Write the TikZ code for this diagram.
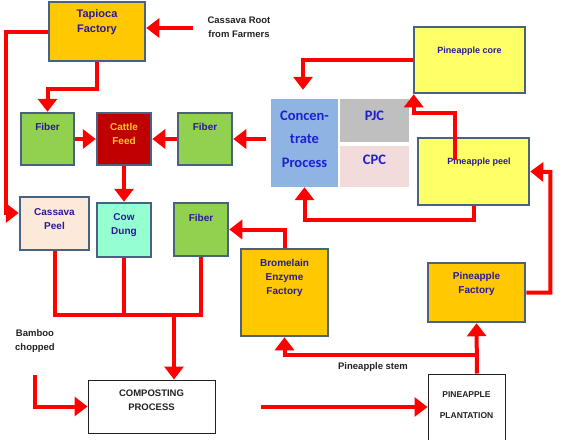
\documentclass[tikz,border=0pt]{standalone}
\usepackage{fontspec}
\setmainfont{Liberation Sans}
\newfontfamily\calib{Carlito}
\usetikzlibrary{arrows.meta}
\definecolor{arrred}{RGB}{255,0,0}
\definecolor{bordc}{RGB}{72,98,128}
\definecolor{txtblue}{RGB}{40,26,150}
\definecolor{goldf}{RGB}{255,200,0}
\definecolor{fiberf}{RGB}{146,208,80}
\definecolor{cattlef}{RGB}{192,0,0}
\definecolor{cattlet}{RGB}{255,200,40}
\definecolor{peelf}{RGB}{253,233,217}
\definecolor{cowf}{RGB}{150,255,210}
\definecolor{yellf}{RGB}{255,255,102}
\definecolor{concf}{RGB}{141,180,226}
\definecolor{pjcf}{RGB}{191,191,191}
\definecolor{cpcf}{RGB}{242,220,219}
\definecolor{conct}{RGB}{30,30,210}
\definecolor{darkt}{RGB}{34,34,34}
\begin{document}
\begin{tikzpicture}[x=1pt,y=-1pt,
  box/.style={draw=bordc, line width=2.5pt, inner sep=0},
  wbox/.style={draw=darkt, line width=1pt, fill=white, inner sep=0},
  flat/.style={inner sep=0},
  lbl/.style={font=\bfseries\fontsize{10}{14}\selectfont, text=txtblue, align=center, inner sep=0},
  dlbl/.style={font=\bfseries\fontsize{9.5}{14}\selectfont, text=darkt, align=center, inner sep=0},
  clbl/.style={font=\calib\bfseries\fontsize{14.5}{23.5}\selectfont, text=conct, align=center, inner sep=0},
  redline/.style={draw=arrred, line width=4pt},
  arr/.style={redline, -{Triangle[width=19pt,length=13pt]}},
]
\useasboundingbox (0,0) rectangle (562,439);

% boxes
\node[box, fill=goldf, minimum width=96, minimum height=59] (tap) at (97,31.5) {};
\node[box, fill=fiberf, minimum width=53, minimum height=52] (fib1) at (47.5,139) {};
\node[box, fill=cattlef, minimum width=54, minimum height=52] (cattle) at (124,139) {};
\node[box, fill=fiberf, minimum width=54, minimum height=52] (fib2) at (205,139) {};
\node[box, fill=peelf, minimum width=69, minimum height=53] (cpeel) at (54.5,223.5) {};
\node[box, fill=cowf, minimum width=54, minimum height=54] (cow) at (124,230) {};
\node[box, fill=fiberf, minimum width=54, minimum height=53] (fib3) at (201,229.5) {};
\node[box, fill=goldf, minimum width=87, minimum height=87] (brom) at (284.5,292.5) {};
\node[box, fill=goldf, minimum width=97, minimum height=59] (pfac) at (476.5,292.5) {};
\node[box, fill=yellf, minimum width=111, minimum height=66] (core) at (469.5,60) {};
\node[box, fill=yellf, minimum width=111, minimum height=67] (peel) at (473.5,171.5) {};
\node[flat, fill=concf, minimum width=67, minimum height=88] (conc) at (304.5,143) {};
\node[flat, fill=pjcf, minimum width=69, minimum height=43] (pjc) at (374.5,120.5) {};
\node[flat, fill=cpcf, minimum width=69, minimum height=41] (cpc) at (374.5,166.5) {};
\node[wbox, minimum width=127, minimum height=53] (comp) at (151.5,406.5) {};
\node[wbox, minimum width=77, minimum height=70] (plant) at (466.5,409) {};

% texts
\node[lbl, font=\bfseries\fontsize{11}{15}\selectfont] (tapT) at (97,22.5) {Tapioca\\Factory};
\node[lbl] (fib1T) at (47.5,127) {Fiber};
\node[lbl, text=cattlet] (cattleT) at (124,134) {Cattle\\Feed};
\node[lbl] (fib2T) at (205,127) {Fiber};
\node[lbl] (cpeelT) at (54.5,219) {Cassava\\Peel};
\node[lbl] (cowT) at (124,225) {Cow\\Dung};
\node[lbl] (fib3T) at (201,218) {Fiber};
\node[lbl] (bromT) at (284.5,278) {Bromelain\\Enzyme\\Factory};
\node[lbl] (pfacT) at (476.5,284) {Pineapple\\Factory};
\node[lbl, font=\bfseries\fontsize{9}{11}\selectfont] (coreT) at (469.5,51) {Pineapple core};
\node[lbl, font=\bfseries\fontsize{9}{11}\selectfont] (peelT) at (479,162) {Pineapple peel};
\node[clbl] (concT) at (304.5,139) {Concen-\\trate\\Process};
\node[clbl] (pjcT) at (374.5,116) {PJC};
\node[clbl] (cpcT) at (374.5,160) {CPC};
\node[dlbl] (compT) at (151.5,400) {COMPOSTING\\PROCESS};
\node[dlbl, font=\bfseries\fontsize{8.5}{21}\selectfont] (plantT) at (466.5,405.5) {PINEAPPLE\\PLANTATION};
\node[dlbl] (cassT) at (239,27) {Cassava Root\\from Farmers};
\node[dlbl] (bambT) at (35,341.5) {Bamboo\\chopped};
\node[dlbl] (stemT) at (373,367) {Pineapple stem};

% free ends
\coordinate (crS) at (193,28);
\coordinate (bambS) at (35,375);
\coordinate (compS) at (261,407);
\coordinate (concS) at (266,139);
\coordinate (jStem) at (477,355);
\coordinate (jComp) at (174,315);
\coordinate (peelS) at (455,160);

% connectors
\draw[arr] (crS) -- (tap.east |- crS);
\draw[arr] (tap.west) -- ++(-42,0) |- ([yshift=10.5pt]cpeel.west);
\draw[arr] (tap.south) -- ++(0,27) -| (fib1.north);
\draw[arr] (fib1.east) -- (cattle.west);
\draw[arr] (fib2.west) -- (cattle.east);
\draw[arr] (concS) -- (fib2.east);
\draw[arr] (cattle.south) -- (cow.north);
\draw[redline] (cpeel.south) |- (jComp) -| (fib3.south);
\draw[redline] (cow.south) -- (cow.south |- jComp);
\draw[arr] (jComp) -- (jComp |- comp.north);
\draw[arr] (bambS) |- (comp.west);
\draw[arr] (compS) -- (plant.west |- compS);
\draw[arr] (jStem |- plant.north) -- (pfac.south);
\draw[arr] (jStem) -| (brom.south);
\draw[arr] (brom.north) |- (fib3.east);
\draw[arr] (pfac.east) -| ++(24,-120.5) -- (peel.east);
\draw[arr] (peelS) -- ++(0,-47) -| ([xshift=1pt]core.south west);
\draw[arr] (core.west) -| ([xshift=-1.5pt,yshift=9pt]conc.north);
\draw[arr] (peel.south) -- ++(0,14) -| (conc.south);
\end{tikzpicture}
\end{document}
